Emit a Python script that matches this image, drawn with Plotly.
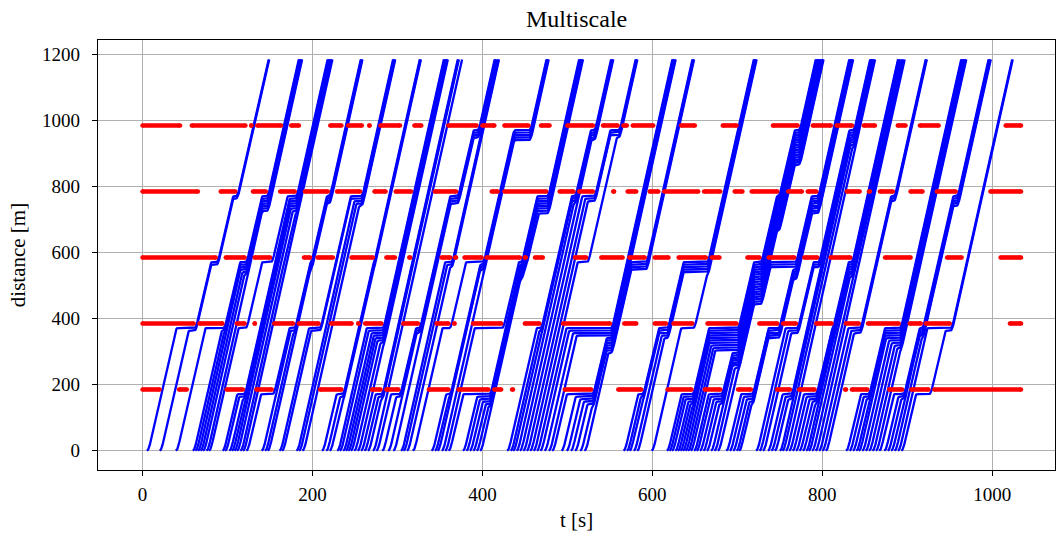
import numpy as np
import plotly.graph_objects as go

# ---------------- data ----------------
intersections = [185, 385, 585, 785, 985]   # distance of each signal [m]
road_end = 1185                              # trajectories end here [m]

# red phases (start, end) in seconds at each intersection
red_185 = [(0, 20), (43, 52), (99, 118), (134, 152), (209, 234), (270, 280), (287, 301),
           (337, 360), (372, 407), (414, 422), (435, 436), (497, 528), (560, 587), (618, 646),
           (662, 680), (701, 716), (747, 762), (773, 791), (827, 828), (835, 853), (879, 894),
           (905, 925), (932, 1034)]
red_385 = [(0, 60), (67, 94), (111, 120), (132, 132), (155, 177), (184, 207), (222, 246),
           (254, 254), (262, 281), (307, 324), (346, 360), (367, 367), (389, 422), (450, 467),
           (495, 550), (567, 581), (603, 616), (625, 647), (665, 699), (726, 747), (754, 769),
           (793, 811), (828, 843), (854, 890), (903, 916), (922, 950), (1021, 1034)]
red_585 = [(0, 86), (98, 120), (132, 150), (190, 197), (206, 224), (246, 271), (287, 297),
           (314, 315), (352, 362), (368, 369), (379, 399), (405, 444), (450, 451), (462, 471),
           (509, 522), (540, 565), (573, 591), (603, 619), (631, 663), (670, 679), (712, 726),
           (737, 767), (779, 794), (810, 833), (874, 904), (947, 964), (1010, 1034)]
red_785 = [(0, 65), (92, 109), (130, 145), (162, 179), (191, 218), (229, 256), (273, 286),
           (298, 316), (344, 369), (411, 418), (426, 475), (491, 507), (514, 530), (554, 555),
           (571, 581), (597, 607), (614, 654), (661, 680), (697, 706), (717, 747), (760, 776),
           (783, 793), (829, 844), (855, 856), (868, 883), (904, 918), (935, 957), (998, 1034)]
red_985 = [(0, 44), (58, 121), (128, 128), (135, 163), (175, 184), (221, 234), (242, 258),
           (267, 267), (280, 303), (320, 328), (360, 393), (400, 414), (426, 454), (469, 479),
           (500, 530), (542, 559), (566, 570), (577, 601), (634, 650), (683, 699), (742, 771),
           (789, 810), (817, 835), (849, 862), (889, 898), (915, 937), (1016, 1034)]
red_phases = [red_185, red_385, red_585, red_785, red_985]

# times [s] at which vehicles enter the road at distance 0
entry_times = [
    5, 20, 39, 59, 62, 65, 68, 71, 75, 78, 94, 97, 102, 105, 108, 111, 115, 118, 122,
    140, 144, 147, 161, 164, 181, 184, 188, 211, 216, 220, 229, 232, 236, 239, 242, 245,
    249, 253, 257, 261, 265, 271, 275, 282, 289, 295, 304, 307, 311, 318, 340, 344, 347,
    352, 356, 360, 377, 381, 385, 389, 393, 397, 429, 433, 436, 440, 444, 448, 452, 456,
    460, 464, 468, 473, 478, 482, 493, 499, 504, 509, 515, 520, 566, 570, 573, 578, 582,
    599, 617, 620, 623, 627, 630, 633, 636, 639, 642, 645, 649, 652, 656, 660, 664, 669,
    673, 677, 687, 691, 695, 699, 702, 722, 726, 730, 736, 740, 744, 750, 753, 757, 761,
    765, 769, 773, 777, 781, 784, 788, 792, 796, 800, 804, 828, 832, 836, 840, 843, 847,
    851, 855, 859, 863, 867, 873, 877, 881, 885, 889, 893]

x_ticks = [0, 200, 400, 600, 800, 1000]
y_ticks = [0, 200, 400, 600, 800, 1000, 1200]

# ---------------- vehicle kinematics (simple car-following) ----------------
V_MAX, ACC, DEC, DEC_MAX = 11.5, 3.0, 3.5, 5.0
MIN_GAP, STOP_OFFSET, DT = 7.5, 14.0, 0.2
stop_lines = [d - STOP_OFFSET for d in intersections]


def is_red(k, t):
    for s, e in red_phases[k]:
        if s <= t < e + 1:
            return True
    return False


n = len(entry_times)
pos = [0.0] * n
vel = [0.0] * n
state = [0] * n  # 0 waiting, 1 on road, 2 finished
tracks = [[] for _ in range(n)]
n_steps = int(1080 / DT)
for step in range(n_steps + 1):
    t = step * DT
    for i in range(n):
        if state[i] == 2:
            continue
        if state[i] == 0:
            if t < entry_times[i]:
                continue
            if i > 0 and state[i - 1] == 0:
                continue
            if i > 0 and state[i - 1] == 1 and pos[i - 1] < MIN_GAP + 1.0:
                continue
            state[i] = 1
            pos[i], vel[i] = 0.0, 0.0
            tracks[i].append((t, 0.0))
            continue
        x, v = pos[i], vel[i]
        lim = V_MAX
        cap = float("inf")
        j = i - 1
        while j >= 0 and state[j] == 2:
            j -= 1
        if j >= 0 and state[j] == 1:
            gap = pos[j] - x - MIN_GAP - v * DT
            lim = min(lim, np.sqrt(max(0.0, vel[j] ** 2 + 2 * DEC * max(gap, 0.0))))
            cap = min(cap, pos[j] - MIN_GAP)
        for k, sp in enumerate(stop_lines):
            if x <= sp + 1e-9:
                if is_red(k, t):
                    dist = sp - x
                    if dist >= v * v / (2 * DEC_MAX) - 0.2:
                        lim = min(lim, np.sqrt(2 * DEC * max(dist - v * DT * 0.5, 0.0)))
                        cap = min(cap, sp)
                break
        v_new = max(0.0, min(v + ACC * DT, lim))
        x_new = min(x + v_new * DT, cap)
        if cap - x_new < 0.3 and v_new < 0.8:
            x_new = max(x, min(cap, x_new + 0.3))
        x_new = max(x_new, x)
        v_new = (x_new - x) / DT
        if x_new >= road_end:
            frac = (road_end - x) / max(x_new - x, 1e-9)
            tracks[i].append((t + frac * DT, road_end))
            state[i] = 2
            continue
        pos[i], vel[i] = x_new, v_new
        if step % 3 == 0:
            tracks[i].append((t + DT, x_new))

# ---------------- figure ----------------
fig = go.Figure()
bx, by = [], []
for tr in tracks:
    for tt, xx in tr:
        bx.append(tt)
        by.append(xx)
    bx.append(None)
    by.append(None)
fig.add_trace(go.Scatter(x=bx, y=by, mode="lines", line=dict(color="#0000ff", width=2.3),
                         hoverinfo="skip", showlegend=False))

for d, phases in zip(intersections, red_phases):
    lx, ly, mx, my = [], [], [], []
    for s, e in phases:
        if e > s:
            lx += [s, e, None]
            ly += [d, d, None]
        mx += [s, e]
        my += [d, d]
    fig.add_trace(go.Scatter(x=lx, y=ly, mode="lines", line=dict(color="#ff0000", width=4.6),
                             hoverinfo="skip", showlegend=False))
    fig.add_trace(go.Scatter(x=mx, y=my, mode="markers",
                             marker=dict(color="#ff0000", size=4.6, line=dict(width=0)),
                             hoverinfo="skip", showlegend=False))

font = "Liberation Serif, Times New Roman, serif"
axis_common = dict(showgrid=True, gridcolor="#b0b0b0", gridwidth=1, zeroline=False,
                   showline=True, linecolor="black", linewidth=1.2, mirror=True,
                   ticks="outside", ticklen=5, tickcolor="black", automargin=False,
                   tickfont=dict(family=font, size=19, color="black"))
fig.update_layout(
    width=1057, height=536,
    margin=dict(l=98, r=2, t=40, b=66, autoexpand=False),
    paper_bgcolor="white", plot_bgcolor="white",
    title=dict(text="Multiscale", x=0.5455, xanchor="center", y=0.965, yanchor="middle",
               font=dict(family=font, size=24, color="black")),
    xaxis=dict(range=[-52.5, 1074], tickvals=x_ticks, ticklabelstandoff=2,
               title=dict(text="t [s]", font=dict(family=font, size=21, color="black"), standoff=8),
               **axis_common),
    yaxis=dict(range=[-59, 1244], tickvals=y_ticks, ticklabelstandoff=8,
               title=dict(text="distance [m]", font=dict(family=font, size=21, color="black"), standoff=10),
               **axis_common),
)
fig.write_html("out.html", config={"displayModeBar": False},
               post_script="document.body.style.margin='0';document.body.style.padding='0';"
                           "document.documentElement.style.overflow='hidden';")
